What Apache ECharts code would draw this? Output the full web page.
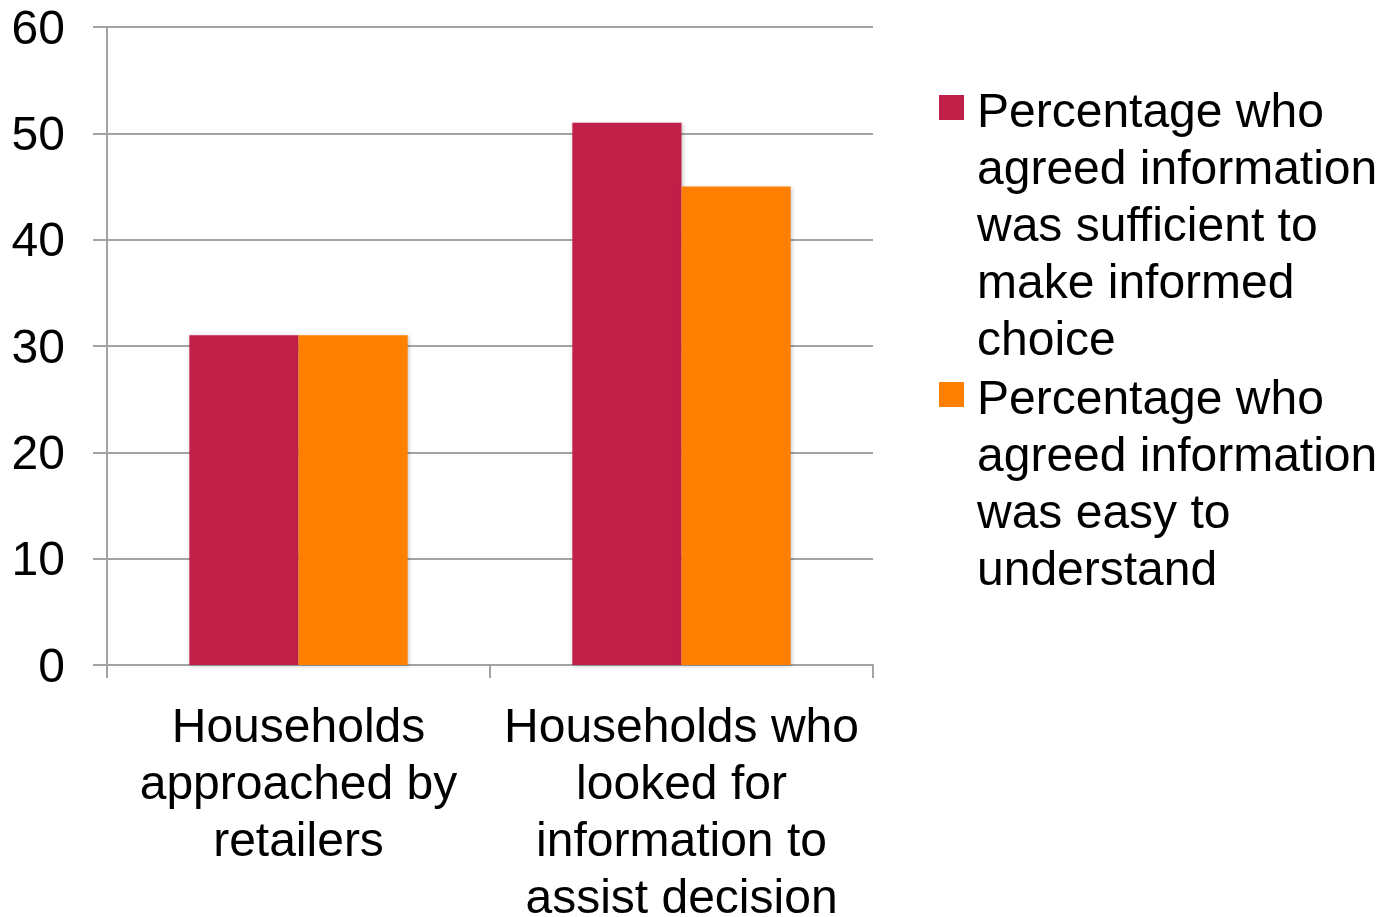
<!DOCTYPE html>
<html>
<head>
<meta charset="utf-8">
<style>
  html, body { margin: 0; padding: 0; background: #ffffff; }
  #chart { width: 1381px; height: 917px; }
</style>
<script src="https://cdn.jsdelivr.net/npm/echarts@6/dist/echarts.min.js"></script>
</head>
<body>
<div id="chart"></div>
<script>
// Survey results: share of households agreeing with each statement (%)
const categories = [
  'Households\napproached by\nretailers',
  'Households who\nlooked for\ninformation to\nassist decision'
];
const seriesNames = [
  'Percentage who agreed information was sufficient to make informed choice',
  'Percentage who agreed information was easy to understand'
];
// Wrapped versions of the series names as shown in the legend
const legendLabels = [
  'Percentage who\nagreed information\nwas sufficient to\nmake informed\nchoice',
  'Percentage who\nagreed information\nwas easy to\nunderstand'
];
const sufficientValues = [31, 51];
const easyValues = [31, 45];
const yTicks = { min: 0, max: 60, interval: 10 };

const FONT = '"Liberation Sans", Arial, Helvetica, sans-serif';
const FS = 48;
const LH = 57;
const AXIS_GREY = '#A3A3A3';
const COLORS = ['#C01F48', '#FF7F00'];
const SWATCH = 25;

// Legend text is centred on its swatch; a top padding on the rich label
// pushes the block down so the first line sits beside the swatch instead.
function legendFor(idx, swatchTop) {
  const lines = legendLabels[idx].split('\n').length;
  const drop = 6;
  const padTop = (lines - 1) * LH + 2 * drop;
  const boxTop = SWATCH / 2 - (lines * LH + padTop) / 2;
  return {
    show: true,
    orient: 'vertical',
    left: 939,
    top: swatchTop + boxTop,
    padding: 0,
    itemWidth: SWATCH,
    itemHeight: SWATCH,
    icon: 'rect',
    data: [seriesNames[idx]],
    formatter: function () { return '{t|' + legendLabels[idx] + '}'; },
    textStyle: {
      fontFamily: FONT,
      fontSize: FS,
      lineHeight: LH,
      color: '#000',
      padding: [padTop, 0, 0, 8],
      rich: {
        t: { fontFamily: FONT, fontSize: FS, lineHeight: LH, color: '#000' }
      }
    },
    selectedMode: false
  };
}

const chart = echarts.init(document.getElementById('chart'), null, { renderer: 'canvas' });

const barShadow = {
  shadowBlur: 4,
  shadowColor: 'rgba(0,0,0,0.22)',
  shadowOffsetX: 1,
  shadowOffsetY: 1
};

chart.setOption({
  animation: false,
  backgroundColor: '#ffffff',
  textStyle: { fontFamily: FONT },
  grid: {
    left: 107,
    right: 508,
    top: 27,
    bottom: 252,
    containLabel: false,
    outerBoundsMode: 'none'
  },
  legend: [legendFor(0, 95), legendFor(1, 382)],
  xAxis: {
    type: 'category',
    data: categories,
    boundaryGap: true,
    axisLine: { show: true, lineStyle: { color: AXIS_GREY, width: 2 } },
    axisTick: { show: true, length: 13, interval: 0, lineStyle: { color: AXIS_GREY, width: 2 } },
    axisLabel: {
      interval: 0,
      margin: 35,
      fontFamily: FONT,
      fontSize: FS,
      lineHeight: LH,
      color: '#000',
      align: 'center'
    },
    splitLine: { show: false }
  },
  yAxis: {
    type: 'value',
    min: yTicks.min,
    max: yTicks.max,
    interval: yTicks.interval,
    axisLine: { show: true, lineStyle: { color: AXIS_GREY, width: 2 } },
    axisTick: { show: true, length: 14, lineStyle: { color: AXIS_GREY, width: 2 } },
    axisLabel: {
      margin: 42,
      fontFamily: FONT,
      fontSize: FS,
      color: '#000',
      // numbers sit a few pixels below their grid line
      verticalAlign: 'top',
      lineHeight: 7
    },
    splitLine: { show: true, lineStyle: { color: AXIS_GREY, width: 2 } }
  },
  series: [
    {
      name: seriesNames[0],
      type: 'bar',
      data: sufficientValues,
      barGap: '0%',
      barCategoryGap: '43%',
      itemStyle: Object.assign({ color: COLORS[0] }, barShadow)
    },
    {
      name: seriesNames[1],
      type: 'bar',
      data: easyValues,
      barGap: '0%',
      barCategoryGap: '43%',
      itemStyle: Object.assign({ color: COLORS[1] }, barShadow)
    }
  ]
});
</script>
</body>
</html>
